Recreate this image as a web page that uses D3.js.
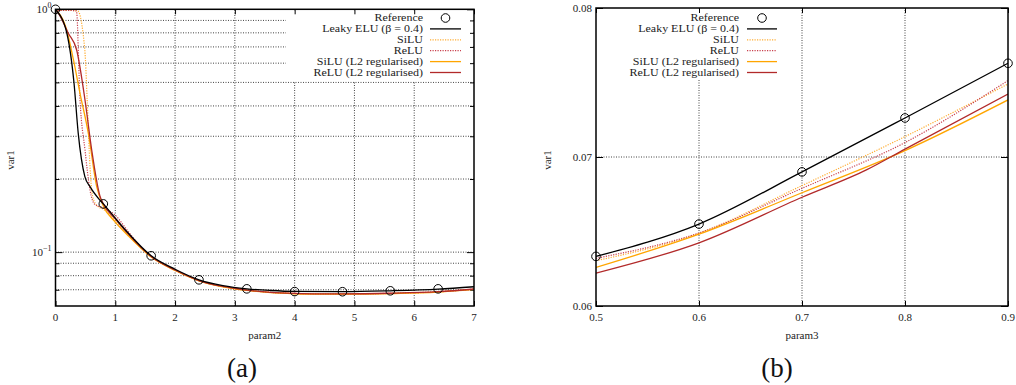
<!DOCTYPE html>
<html><head><meta charset="utf-8">
<script src="https://cdn.jsdelivr.net/npm/d3@7"></script>
<style>
html,body{margin:0;padding:0;background:#fff;}
svg{display:block;}
svg text{font-family:"Liberation Serif","DejaVu Serif",serif !important;fill:#222;}
</style></head>
<body>
<svg id="chart" width="1016" height="385" font-family="Liberation Serif, DejaVu Serif, serif"></svg>
<script>
// ---------- Panel (a) data ----------
const refXA = [0, 0.8, 1.6, 2.4, 3.2, 4.0, 4.8, 5.6, 6.4];
const refYA = [1.0, 0.158, 0.0966, 0.0769, 0.0706, 0.0688, 0.0687, 0.0693, 0.0706];

const leakyXA = [0, 0.01, 0.19, 0.31, 0.38, 0.49, 0.577, 0.74, 0.8, 1.0, 1.2, 1.6, 2.0, 2.4, 2.8, 3.2, 3.6, 4.0, 4.8, 5.6, 6.4, 7.0];
const leakyYA = [1.0, 0.993, 0.797, 0.496, 0.309, 0.205, 0.186, 0.164, 0.158, 0.138, 0.121, 0.0966, 0.0850, 0.0769, 0.0728, 0.0706, 0.0695, 0.0689, 0.0687, 0.0693, 0.0704, 0.0720];

const siluXA = [0, 0.2, 0.37, 0.49, 0.53, 0.577, 0.62, 0.7, 0.8, 1.0, 1.2, 1.6, 2.0, 2.4, 2.8, 3.2, 3.6, 4.0, 4.4, 4.8, 5.6, 6.4, 7.0];
const siluYA = [0.99, 0.99, 0.985, 0.68, 0.424, 0.225, 0.17, 0.155, 0.150, 0.135, 0.119, 0.0958, 0.0842, 0.0763, 0.0721, 0.0697, 0.0682, 0.0675, 0.0672, 0.0672, 0.0675, 0.0686, 0.0703];

const reluXA = [0, 0.2, 0.35, 0.41, 0.493, 0.577, 0.65, 0.8, 1.0, 1.2, 1.4, 1.6, 2.0, 2.4, 2.8, 3.2, 3.6, 4.0, 4.4, 4.8, 5.6, 6.4, 7.0];
const reluYA = [0.99, 0.99, 0.985, 0.424, 0.264, 0.18, 0.158, 0.152, 0.142, 0.123, 0.107, 0.0962, 0.0845, 0.0764, 0.0722, 0.0698, 0.0683, 0.0676, 0.0673, 0.0673, 0.0677, 0.0687, 0.0704];

const siluL2XA = [0, 0.187, 0.3, 0.41, 0.549, 0.689, 0.8, 1.0, 1.2, 1.6, 2.0, 2.4, 2.8, 3.2, 3.6, 4.0, 4.4, 4.8, 5.6, 6.4, 7.0];
const siluL2YA = [1.0, 0.822, 0.62, 0.451, 0.309, 0.186, 0.155, 0.133, 0.118, 0.0955, 0.0840, 0.0762, 0.0720, 0.0696, 0.0681, 0.0674, 0.0671, 0.0671, 0.0675, 0.0685, 0.0702];

const reluL2XA = [0, 0.05, 0.214, 0.354, 0.493, 0.605, 0.744, 0.8, 1.0, 1.2, 1.6, 2.0, 2.4, 2.8, 3.2, 3.6, 4.0, 4.4, 4.8, 5.6, 6.4, 7.0];
const reluL2YA = [1.0, 0.963, 0.797, 0.68, 0.424, 0.264, 0.170, 0.158, 0.137, 0.120, 0.0960, 0.0844, 0.0764, 0.0722, 0.0698, 0.0683, 0.0676, 0.0673, 0.0673, 0.0677, 0.0687, 0.0705];

const xTicksA = [0, 1, 2, 3, 4, 5, 6, 7];
const yMajorA = [0.1, 1];
const yMinorA = [0.07, 0.08, 0.09, 0.2, 0.3, 0.4, 0.5, 0.6, 0.7, 0.8, 0.9];

// ---------- Panel (b) data ----------
const xB = [0.5, 0.6, 0.7, 0.8, 0.9];
const refYB = [0.06333, 0.06550, 0.06900, 0.07262, 0.07629];
const leakyYB = [0.06333, 0.06550, 0.06900, 0.07262, 0.07629];
const siluYB = [0.06304, 0.06488, 0.06808, 0.07137, 0.07490];
const reluYB = [0.06320, 0.06490, 0.06790, 0.07097, 0.07513];
const siluL2YB = [0.06259, 0.06482, 0.06760, 0.07043, 0.07383];
const reluL2XB = [0.5, 0.6, 0.7, 0.763, 0.8, 0.9];
const reluL2YB = [0.06221, 0.06424, 0.06730, 0.06915, 0.07053, 0.07423];

const xTicksB = [0.5, 0.6, 0.7, 0.8, 0.9];
const yTicksB = [0.06, 0.07, 0.08];

const legendLabels = ["Reference", "Leaky ELU (\u03b2 = 0.4)", "SiLU", "ReLU", "SiLU (L2 regularised)", "ReLU (L2 regularised)"];
const seriesStyles = [
  null,
  {color: "#000000", dash: null},
  {color: "#ffad33", dash: "1.2,1.3"},
  {color: "#c8404e", dash: "1.2,1.3"},
  {color: "#ffa500", dash: null},
  {color: "#b22a2a", dash: null}
];

const FONT = "Liberation Serif, DejaVu Serif, serif";
const svg = d3.select("#chart");

function zip(xs, ys) { return xs.map((x, i) => [x, ys[i]]); }

function drawPanel(cfg) {
  const g = svg.append("g").attr("font-family", FONT);
  const x = cfg.x, y = cfg.y;
  const [x0, x1] = x.range();
  const [yb, yt] = y.range();
  const gridColor = "#444";

  const grid = g.append("g");
  cfg.xGrid.forEach(v => {
    grid.append("line").attr("x1", x(v)).attr("x2", x(v)).attr("y1", yb).attr("y2", yt)
      .attr("stroke", gridColor).attr("stroke-width", 1).attr("stroke-dasharray", "1,1.5");
  });
  cfg.yGrid.forEach(v => {
    grid.append("line").attr("x1", x0).attr("x2", x1).attr("y1", y(v)).attr("y2", y(v))
      .attr("stroke", gridColor).attr("stroke-width", 1).attr("stroke-dasharray", "1,1.5");
  });

  const lg = cfg.legend;
  g.append("rect").attr("x", lg.boxX).attr("y", yt + 1).attr("width", lg.boxW).attr("height", lg.boxH)
    .attr("fill", "#fff");

  const clipId = "clip" + cfg.id;
  svg.append("clipPath").attr("id", clipId).append("rect")
    .attr("x", x0).attr("y", yt).attr("width", x1 - x0).attr("height", yb - yt);

  const axB = d3.axisBottom(x).tickValues(cfg.xTicks).tickSize(-5).tickFormat("");
  const axT = d3.axisTop(x).tickValues(cfg.xTicks).tickSize(-5).tickFormat("");
  const axL = d3.axisLeft(y).tickValues(cfg.yMajor).tickSize(-7).tickFormat("");
  const axR = d3.axisRight(y).tickValues(cfg.yMajor).tickSize(-7).tickFormat("");
  [[axB, `translate(0,${yb})`], [axT, `translate(0,${yt})`], [axL, `translate(${x0},0)`], [axR, `translate(${x1},0)`]]
    .forEach(([ax, tr]) => {
      const a = g.append("g").attr("transform", tr).call(ax);
      a.select(".domain").remove();
      a.selectAll("line").attr("stroke", "#000").attr("stroke-width", 1);
    });
  if (cfg.yMinor) {
    const mL = d3.axisLeft(y).tickValues(cfg.yMinor).tickSize(-4).tickFormat("");
    const mR = d3.axisRight(y).tickValues(cfg.yMinor).tickSize(-4).tickFormat("");
    [[mL, `translate(${x0},0)`], [mR, `translate(${x1},0)`]].forEach(([ax, tr]) => {
      const a = g.append("g").attr("transform", tr).call(ax);
      a.select(".domain").remove();
      a.selectAll("line").attr("stroke", "#000").attr("stroke-width", 1);
    });
  }

  const plot = g.append("g").attr("clip-path", `url(#${clipId})`);
  const line = d3.line().x(d => x(d[0])).y(d => y(d[1])).curve(d3.curveMonotoneX);
  [2, 3, 4, 5, 1].forEach(i => {
    const st = seriesStyles[i];
    plot.append("path").datum(cfg.series[i]).attr("d", line).attr("fill", "none")
      .attr("stroke", st.color).attr("stroke-width", st.dash ? 1.2 : 1.3)
      .attr("stroke-dasharray", st.dash);
  });
  g.selectAll(null).data(cfg.series[0]).enter().append("circle")
    .attr("cx", d => x(d[0])).attr("cy", d => y(d[1])).attr("r", 4.3)
    .attr("fill", "none").attr("stroke", "#000").attr("stroke-width", 1);

  g.append("rect").attr("x", x0).attr("y", yt).attr("width", x1 - x0).attr("height", yb - yt)
    .attr("fill", "none").attr("stroke", "#000").attr("stroke-width", 1.5);

  cfg.xTicks.forEach(v => {
    g.append("text").attr("x", x(v)).attr("y", yb + 15).attr("text-anchor", "middle")
      .attr("font-size", 11).text(cfg.xFmt(v));
  });
  cfg.yLabels.forEach(v => {
    const t = g.append("text").attr("x", x0 - 4).attr("y", y(v) + 3.5).attr("text-anchor", "end")
      .attr("font-size", 11);
    cfg.yFmt(t, v);
  });

  g.append("text").attr("x", (x0 + x1) / 2).attr("y", 339).attr("text-anchor", "middle")
    .attr("font-size", 11).text(cfg.xTitle);
  g.append("text").attr("transform", `translate(${cfg.yTitleX},160) rotate(-90)`)
    .attr("text-anchor", "middle").attr("font-size", 11).text("var1");
  g.append("text").attr("x", cfg.capX).attr("y", 377).attr("text-anchor", "middle")
    .attr("font-size", 27).style("fill", "#111").text(cfg.caption);

  const rows = [18, 28.9, 39.8, 50.7, 61.6, 72.5];
  legendLabels.forEach((lab, i) => {
    const ry = rows[i];
    g.append("g").attr("transform", `translate(${lg.textX},${ry + 3.4}) scale(1.22,1)`)
      .append("text").attr("x", 0).attr("y", 0).attr("text-anchor", "end")
      .attr("font-size", 9.8).text(lab);
    if (i === 0) {
      g.append("circle").attr("cx", (lg.s0 + lg.s1) / 2).attr("cy", ry).attr("r", 4.3)
        .attr("fill", "none").attr("stroke", "#000").attr("stroke-width", 1);
    } else {
      const st = seriesStyles[i];
      g.append("line").attr("x1", lg.s0).attr("x2", lg.s1).attr("y1", ry).attr("y2", ry)
        .attr("stroke", st.color).attr("stroke-width", st.dash ? 1.2 : 1.3)
        .attr("stroke-dasharray", st.dash);
    }
  });
}

const xA = d3.scaleLinear().domain([0, 7]).range([55.5, 474]);
const yA = d3.scaleLog().domain([0.06, 1]).range([306, 9.3]);
drawPanel({
  id: "A", x: xA, y: yA,
  xTicks: xTicksA, yMajor: yMajorA, yMinor: yMinorA,
  xGrid: xTicksA.slice(1, -1), yGrid: yMinorA.concat([0.1]),
  yLabels: yMajorA,
  xFmt: d => String(d),
  yFmt: (t, v) => {
    t.append("tspan").text("10");
    t.append("tspan").attr("dy", -5).attr("font-size", 8).text(v === 1 ? "0" : "\u22121");
  },
  xTitle: "param2", yTitleX: 14, caption: "(a)", capX: 242,
  series: [zip(refXA, refYA), zip(leakyXA, leakyYA), zip(siluXA, siluYA), zip(reluXA, reluYA), zip(siluL2XA, siluL2YA), zip(reluL2XA, reluL2YA)],
  legend: {boxX: 286, boxW: 187, boxH: 71, textX: 423, s0: 430, s1: 461}
});

const xBs = d3.scaleLinear().domain([0.5, 0.9]).range([596, 1008]);
const yBs = d3.scaleLinear().domain([0.06, 0.08]).range([306, 8]);
drawPanel({
  id: "B", x: xBs, y: yBs,
  xTicks: xTicksB, yMajor: yTicksB, yMinor: null,
  xGrid: xTicksB.slice(1, -1), yGrid: [0.07],
  yLabels: yTicksB,
  xFmt: d => d.toFixed(1),
  yFmt: (t, v) => { t.text(v.toFixed(2)); },
  xTitle: "param3", yTitleX: 551, caption: "(b)", capX: 777,
  series: [zip(xB, refYB), zip(xB, leakyYB), zip(xB, siluYB), zip(xB, reluYB), zip(xB, siluL2YB), zip(reluL2XB, reluL2YB)],
  legend: {boxX: 604, boxW: 178, boxH: 71, textX: 739, s0: 747, s1: 777}
});
</script>
</body></html>
